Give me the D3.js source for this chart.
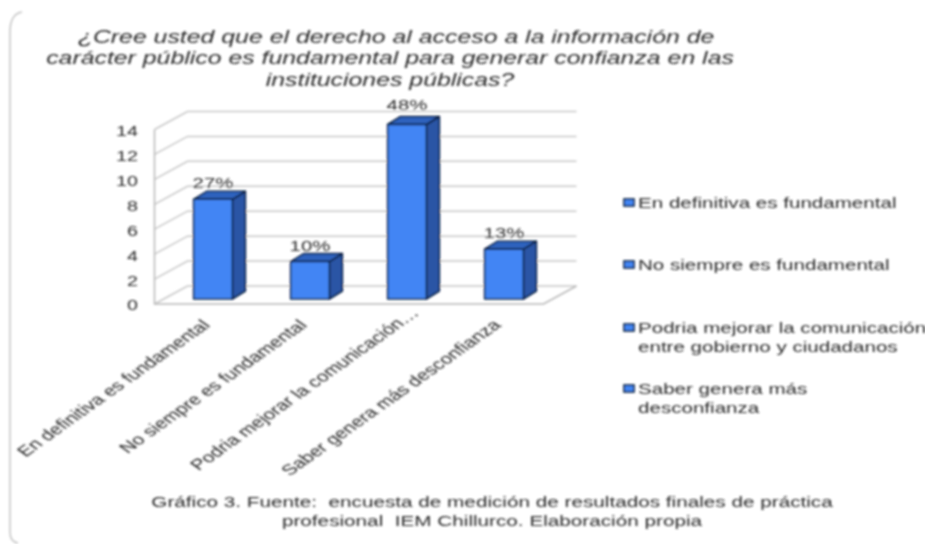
<!DOCTYPE html>
<html>
<head>
<meta charset="utf-8">
<script src="https://cdn.jsdelivr.net/npm/d3@7"></script>
<style>
  html, body { margin: 0; padding: 0; background: #fff; }
  svg { display: block; }
  text { font-family: "Liberation Sans", Arial, sans-serif; fill: #2b2b2b; white-space: pre; }
</style>
</head>
<body>
<svg id="chart" width="925" height="544"></svg>
<script>
// chart values
const categories = ['En definitiva es fundamental', 'No siempre es fundamental', 'Podria mejorar la comunicación…', 'Saber genera más desconfianza'];
const counts = [8, 3, 14, 4];
const percents = ['27%', '10%', '48%', '13%'];
const yTicks = [0, 2, 4, 6, 8, 10, 12, 14];
const legendLines = [
  ['En definitiva es fundamental'],
  ['No siempre es fundamental'],
  ['Podria mejorar la comunicación', 'entre gobierno y ciudadanos'],
  ['Saber genera más', 'desconfianza']
];
const titleLines = [
  '¿Cree usted que el derecho al acceso a la información de',
  'carácter público es fundamental para generar confianza en las',
  'instituciones públicas?'
];
const captionLines = [
  'Gráfico 3. Fuente:  encuesta de medición de resultados finales de práctica',
  'profesional  IEM Chillurco. Elaboración propia'
];

const FLOOR_Y = 304;       // front edge of the floor
const FLOOR_LEFT = 154.5;
const FLOOR_WIDTH = 389;
const DEPTH = {x: 33, y: -18};      // floor depth
const BAR_DEPTH = {x: 13, y: -8};   // depth of each bar
const BAR_OFFSET = {x: 10, y: -5};  // bars stand a little inside the floor
const STRETCH = 1.41;               // the screenshot is stretched sideways

const svg = d3.select('#chart');

// blur, the original is a scaled screenshot
const defs = svg.append('defs');
defs.append('filter').attr('id', 'soft')
  .attr('x', '-5%').attr('y', '-5%').attr('width', '110%').attr('height', '110%')
  .append('feGaussianBlur').attr('stdDeviation', 0.8);

const root = svg.append('g').attr('filter', 'url(#soft)');

// frame, only the left side of it shows
root.append('path')
  .attr('d', 'M22,12 Q10,14 10,32 L10,532 Q10,542 18,543')
  .attr('fill', 'none')
  .attr('stroke', '#c4c4c4')
  .attr('stroke-width', 1.5);

// SCALES //
const xScale = d3.scaleBand()
  .domain(categories)
  .range([FLOOR_LEFT + BAR_OFFSET.x, FLOOR_LEFT + BAR_OFFSET.x + 388])
  .paddingInner(0.6)
  .paddingOuter(0.3);

const yScale = d3.scaleLinear()
  .domain([0, 14])
  .range([0, -174.5]);

// WALLS AND GRID //
const grid = root.append('g')
  .attr('fill', 'none')
  .attr('stroke', '#c8c8c8')
  .attr('stroke-width', 1.5);

yTicks.forEach(t => {
  const y = FLOOR_Y + yScale(t);
  grid.append('path')
    .attr('d', d3.line()([
      [FLOOR_LEFT, y],
      [FLOOR_LEFT + DEPTH.x, y + DEPTH.y],
      [FLOOR_LEFT + DEPTH.x + FLOOR_WIDTH, y + DEPTH.y]
    ]));
});

// front left edge and floor
grid.append('path')
  .attr('d', d3.line()([
    [FLOOR_LEFT, FLOOR_Y + yScale(14)],
    [FLOOR_LEFT, FLOOR_Y],
    [FLOOR_LEFT + FLOOR_WIDTH, FLOOR_Y],
    [FLOOR_LEFT + FLOOR_WIDTH + DEPTH.x, FLOOR_Y + DEPTH.y]
  ]))
  .attr('stroke', '#b8b8b8');

// Y AXIS //
const yAxis = root.append('g')
  .attr('transform', `translate(138, ${FLOOR_Y + 1.5})`)
  .call(d3.axisLeft(yScale).tickValues(yTicks).tickSize(0).tickPadding(0));
yAxis.select('.domain').remove();
yAxis.selectAll('text')
  .attr('x', 0)
  .attr('transform', `scale(${STRETCH},1)`)
  .style('font-size', '14px')
  .style('font-family', '"Liberation Sans", Arial, sans-serif')
  .style('fill', '#2b2b2b');

// BARS //
const bars = root.append('g').selectAll('g')
  .data(categories)
  .enter()
  .append('g')
  .attr('transform', d => `translate(${xScale(d)}, ${FLOOR_Y + BAR_OFFSET.y})`);

bars.each(function(d, i) {
  const g = d3.select(this);
  const w = xScale.bandwidth();
  const top = yScale(counts[i]);

  // side
  g.append('path')
    .attr('d', d3.line()([
      [w, 0], [w + BAR_DEPTH.x, BAR_DEPTH.y],
      [w + BAR_DEPTH.x, top + BAR_DEPTH.y], [w, top]
    ]) + 'Z')
    .attr('fill', '#2a55a5');
  // top
  g.append('path')
    .attr('d', d3.line()([
      [0, top], [BAR_DEPTH.x, top + BAR_DEPTH.y],
      [w + BAR_DEPTH.x, top + BAR_DEPTH.y], [w, top]
    ]) + 'Z')
    .attr('fill', '#2f62bd');
  // front
  g.append('rect')
    .attr('x', 0)
    .attr('y', top)
    .attr('width', w)
    .attr('height', -top)
    .attr('fill', '#4285f4');

  g.selectAll('path, rect')
    .attr('stroke', '#0a1f40')
    .attr('stroke-width', 1.5)
    .attr('stroke-linejoin', 'round');

  // the tallest label was pushed up a bit more
  const lift = i === 2 ? 7 : 3;
  g.append('text')
    .attr('transform', `translate(${w / 2}, ${top + BAR_DEPTH.y - lift}) scale(${STRETCH},1)`)
    .style('text-anchor', 'middle')
    .style('font-size', '14.5px')
    .text(percents[i]);
});

// CATEGORY LABELS //
root.append('g').selectAll('text')
  .data(categories)
  .enter()
  .append('text')
  .attr('transform', (d, i) => {
    // the truncated label ends further along its slope
    const dx = i === 2 ? 15 : 0;
    const dy = i === 2 ? -12 : 0;
    return `translate(${xScale(d) + xScale.bandwidth() / 2 - 2 + dx}, ${326 + dy}) scale(${STRETCH},1) rotate(-45)`;
  })
  .style('text-anchor', 'end')
  .style('font-size', '14.8px')
  .text(d => d);

// TITLE //
root.append('g').selectAll('text')
  .data(titleLines)
  .enter()
  .append('text')
  .attr('transform', (d, i) => `translate(${[396, 390, 390][i]}, ${[43, 64, 86][i]}) scale(1.42,1)`)
  .style('text-anchor', 'middle')
  .style('font-size', '17.5px')
  .style('font-style', 'italic')
  .text(d => d);

// LEGEND //
const legendY = [203, 265, 328, 389];
legendLines.forEach((lines, i) => {
  root.append('rect')
    .attr('x', 624)
    .attr('y', legendY[i] - 4)
    .attr('width', 10)
    .attr('height', 7)
    .attr('fill', '#4285f4')
    .attr('stroke', '#0a1f40')
    .attr('stroke-width', 1.6);

  lines.forEach((line, j) => {
    root.append('text')
      .attr('transform', `translate(638, ${legendY[i] + 5 + j * 18.5}) scale(1.45,1)`)
      .style('font-size', '14.2px')
      .text(line);
  });
});

// CAPTION //
root.append('g').selectAll('text')
  .data(captionLines)
  .enter()
  .append('text')
  .attr('transform', (d, i) => `translate(492, ${507 + i * 19}) scale(1.48,1)`)
  .style('text-anchor', 'middle')
  .style('font-size', '14px')
  .text(d => d);
</script>
</body>
</html>
